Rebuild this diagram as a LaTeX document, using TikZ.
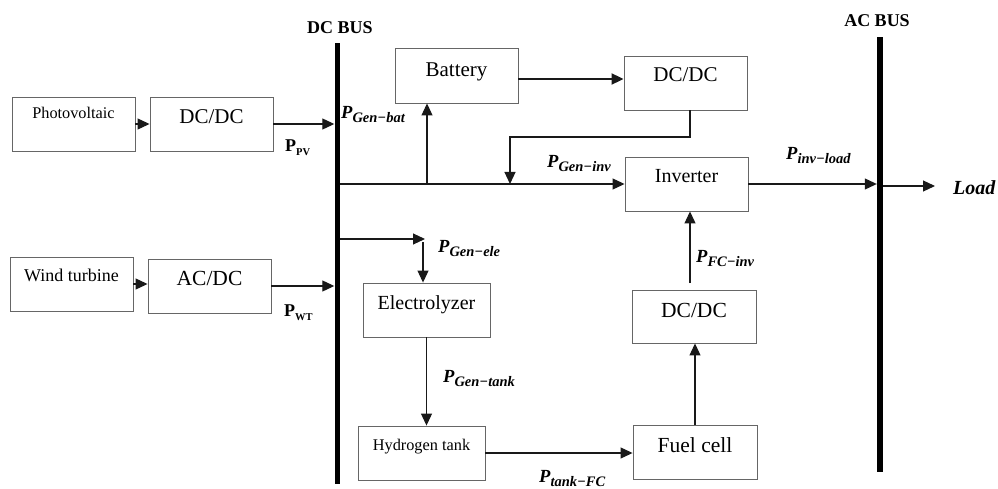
\documentclass[tikz,border=0pt]{standalone}
\usepackage{fontspec}
\setmainfont{Liberation Serif}
\usetikzlibrary{arrows.meta}
\newcommand{\PowLbl}[1]{{\fontsize{18.5}{20}\selectfont\bfseries\itshape P\raisebox{-4pt}{\fontsize{14.5}{15}\selectfont #1}}}
\newcommand{\PowUp}[1]{{\fontsize{18}{20}\selectfont\bfseries P\raisebox{-4pt}{\fontsize{10.5}{12}\selectfont #1}}}
\newcommand{\fs}[1]{\fontsize{#1}{#1}\selectfont}
\begin{document}
\begin{tikzpicture}[x=1pt,y=-1pt,
  box/.style={draw=black!60, line width=0.9pt, minimum width=123pt, minimum height=54pt, inner sep=0pt},
  txt/.style={anchor=base, inner sep=0pt},
  lbl/.style={anchor=base west, inner sep=0pt},
  bus/.style={fill=black, draw=none, inner sep=0pt, minimum width=5pt},
  arr/.style={draw=black!90, line width=1.1pt, -{Triangle[length=12pt,width=11pt]}},
  ln/.style={draw=black!90, line width=1.1pt}]
\useasboundingbox (0,0) rectangle (998,489);
% buses
\node[bus, minimum height=441pt] (dcbus) at (337,263.5) {};
\node[bus, minimum width=6pt, minimum height=435pt] (acbus) at (880,254.5) {};
\node[txt, font=\fs{18}\bfseries] (dclbl) at (340,34) {DC BUS};
\node[txt, font=\fs{18}\bfseries] (aclbl) at (877,27) {AC BUS};
% boxes
\node[box] (pv) at (73.5,124) {};
\node[txt, font=\fs{16.3}] (pvt) at (73.5,119) {Photovoltaic};
\node[box] (dcdc1) at (211.5,124) {};
\node[txt, font=\fs{21}] (dcdc1t) at (211.5,124) {DC/DC};
\node[box] (wt) at (71.5,284) {};
\node[txt, font=\fs{18}] (wtt) at (71.5,281) {Wind turbine};
\node[box] (acdc) at (209.5,286) {};
\node[txt, font=\fs{21.5}] (acdct) at (209.5,285) {AC/DC};
\node[box, minimum height=55pt] (bat) at (456.5,75.5) {};
\node[txt, font=\fs{21}] (batt) at (456.5,77) {Battery};
\node[box] (dcdc2) at (685.5,83) {};
\node[txt, font=\fs{21}] (dcdc2t) at (685.5,82) {DC/DC};
\node[box] (inv) at (686.5,184) {};
\node[txt, font=\fs{20}] (invt) at (686.5,183) {Inverter};
\node[box, minimum width=127pt] (ele) at (426.5,310) {};
\node[txt, font=\fs{20}] (elet) at (426.5,309) {Electrolyzer};
\node[box, minimum width=127pt] (h2) at (421.5,453) {};
\node[txt, font=\fs{16.3}] (h2t) at (421.5,450) {Hydrogen tank};
\node[box, minimum width=124pt, minimum height=53pt] (dcdc3) at (694,316.5) {};
\node[txt, font=\fs{21.5}] (dcdc3t) at (694,317) {DC/DC};
\node[box, minimum width=124pt] (fc) at (695,452) {};
\node[txt, font=\fs{21.5}] (fct) at (695,452) {Fuel cell};
% labels
\node[lbl] (lpv) at (285,152) {\PowUp{PV}};
\node[lbl] (lwt) at (284,316) {\PowUp{WT}};
\node[lbl] (lgb) at (341,119) {\PowLbl{Gen−bat}};
\node[lbl] (lgi) at (547,168) {\PowLbl{Gen−inv}};
\node[lbl] (lil) at (786,160) {\PowLbl{inv−load}};
\node[lbl] (lge) at (438,252) {\PowLbl{Gen−ele}};
\node[lbl] (lgt) at (443,382) {\PowLbl{Gen−tank}};
\node[lbl] (lfi) at (696,262) {\PowLbl{FC−inv}};
\node[lbl] (ltf) at (539,482) {\PowLbl{tank−FC}};
\node[lbl, font=\fs{20}\bfseries\itshape] (load) at (953,194) {Load};
% connectors
\draw[arr] (pv.east) -- (dcdc1.west);
\draw[arr] (dcdc1.east) -- (dcdc1.east -| dcbus.west);
\draw[arr] (wt.east) -- (wt.east -| acdc.west);
\draw[arr] (acdc.east) -- (acdc.east -| dcbus.west);
\draw[arr] (inv.west -| dcbus.east) -- (inv.west);
\coordinate (jb) at (427,184);
\draw[arr] (jb) -- (jb |- bat.south);
\draw[arr, line width=2pt] ([yshift=-3.5pt]bat.east) -- ([yshift=-3.5pt]bat.east -| dcdc2.west);
\coordinate (k1) at (690,137);
\coordinate (k2) at (510,137);
\draw[arr] (dcdc2.south -| k1) -- (k1) -- (k2) -- (k2 |- inv.west);
\draw[arr] (inv.east) -- (inv.east -| acbus.west);
\coordinate (ld) at (935,186);
\draw[arr] (acbus.east |- ld) -- (ld);
\coordinate (e1) at (425,239);
\draw[arr] (dcbus.east |- e1) -- (e1);
\coordinate (e2) at (423,242);
\draw[arr] (e2) -- (e2 |- ele.north);
\draw[arr] (ele.south) -- (ele.south |- h2.north);
\draw[arr] (h2.east) -- (h2.east -| fc.west);
\draw[arr] (fc.north) -- (fc.north |- dcdc3.south);
\coordinate (f1) at (690,283);
\draw[arr] (f1) -- (f1 |- inv.south);
\end{tikzpicture}
\end{document}
